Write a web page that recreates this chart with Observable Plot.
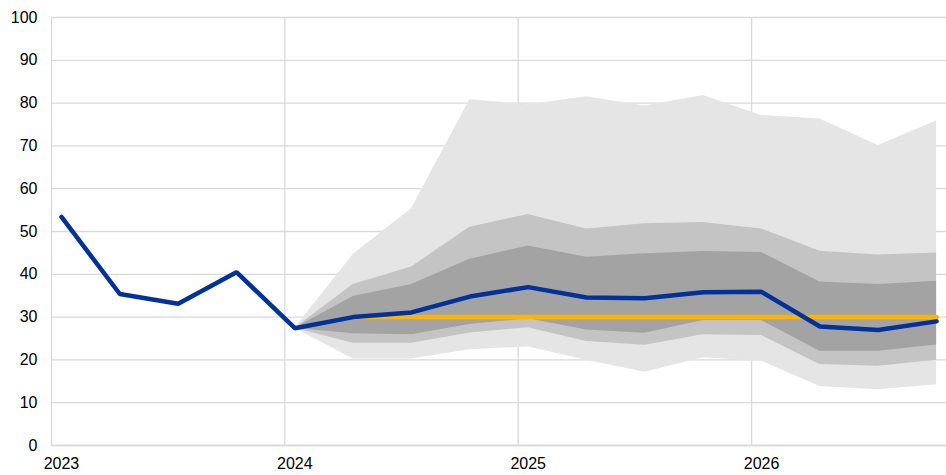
<!DOCTYPE html>
<html><head><meta charset="utf-8">
<script src="https://cdn.jsdelivr.net/npm/d3@7"></script>
<script src="https://cdn.jsdelivr.net/npm/@observablehq/plot@0.6"></script>
<style>body{margin:0;background:#fff;}</style>
</head><body><div id="chart"></div>
<script>
// Quarters 2023Q1 .. 2026Q4
const quarters = ["2023Q1","2023Q2","2023Q3","2023Q4","2024Q1","2024Q2","2024Q3","2024Q4",
                  "2025Q1","2025Q2","2025Q3","2025Q4","2026Q1","2026Q2","2026Q3","2026Q4"];
const actual   = [53.4,35.4,33.1,40.5,27.4,30.0,31.1,34.8,37.0,34.6,34.4,35.8,35.9,27.8,27.0,29.0];
const baseline = [null,null,null,null,null,30,30,30,30,30,30,30,30,30,30,30];
// fan chart bands from 2024Q1 to 2026Q4
const fanQuarters = quarters.slice(4);
const outerUpper = [27.4,44.6,55.3,80.8,79.6,81.5,79.3,81.8,77.1,76.3,70.1,75.8];
const midUpper   = [27.4,37.6,41.7,51.0,54.0,50.6,51.8,52.1,50.6,45.4,44.5,45.0];
const innerUpper = [27.4,34.8,37.6,43.5,46.6,44.0,44.8,45.3,45.1,38.2,37.6,38.4];
const innerLower = [27.4,26.1,25.9,28.3,29.6,27.0,26.2,29.2,29.2,22.0,22.0,23.5];
const midLower   = [27.4,23.9,23.9,26.3,27.5,24.3,23.4,25.9,25.7,18.9,18.5,19.9];
const outerLower = [27.4,20.2,20.2,22.4,23.0,19.9,17.1,20.5,19.7,13.8,13.0,14.2];
const yearLabels = ["2023","2024","2025","2026"];
const yTicks = [0,10,20,30,40,50,60,70,80,90,100];

const qIndex = q => quarters.indexOf(q);
const yearIdx = yearLabels.map(y => qIndex(y + "Q1"));
const gridShift = 0.171; // year gridlines sit slightly left of Q1 points
const xDomain = [-gridShift, quarters.length - 1 + 0.17];

const fan = fanQuarters.map((q, i) => ({
  x: qIndex(q), oU: outerUpper[i], mU: midUpper[i], iU: innerUpper[i],
  iL: innerLower[i], mL: midLower[i], oL: outerLower[i]
}));
const actualData = quarters.map((q, i) => ({x: i, y: actual[i]}));
const baseData = quarters.map((q, i) => ({x: i, y: baseline[i]})).filter(d => d.y != null);

const chart = Plot.plot({
  width: 946, height: 475,
  marginLeft: 51, marginRight: 0, marginTop: 17, marginBottom: 30,
  style: {fontFamily: "'Liberation Sans', Arial, sans-serif", fontSize: "16px", color: "#000", background: "#fff"},
  x: {type: "linear", domain: xDomain},
  y: {domain: [0, 100]},
  marks: [
    Plot.gridY(yTicks, {stroke: "#d9d9d9", strokeOpacity: 1, strokeWidth: 1.3}),
    Plot.ruleX(yearIdx.map(i => i - gridShift), {stroke: "#d9d9d9", strokeOpacity: 1, strokeWidth: 1.3}),
    Plot.areaY(fan, {x: "x", y1: "oL", y2: "oU", fill: "#e5e5e5"}),
    Plot.areaY(fan, {x: "x", y1: "mL", y2: "mU", fill: "#c4c4c4"}),
    Plot.areaY(fan, {x: "x", y1: "iL", y2: "iU", fill: "#a3a3a3"}),
    Plot.ruleY([0], {stroke: "#d9d9d9", strokeWidth: 1.5}),
    Plot.lineY(baseData, {x: "x", y: "y", stroke: "#ffb400", strokeWidth: 4.5, strokeLinecap: "round"}),
    Plot.lineY(actualData, {x: "x", y: "y", stroke: "#003299", strokeWidth: 4.5, strokeLinejoin: "miter", strokeLinecap: "round"}),
    Plot.axisY({ticks: yTicks, tickSize: 0, tickPadding: 14, label: null}),
    Plot.axisX({ticks: yearIdx, tickFormat: i => yearLabels[yearIdx.indexOf(i)], tickSize: 0, tickPadding: 12, label: null})
  ]
});
document.getElementById("chart").appendChild(chart);
</script>
</body></html>
